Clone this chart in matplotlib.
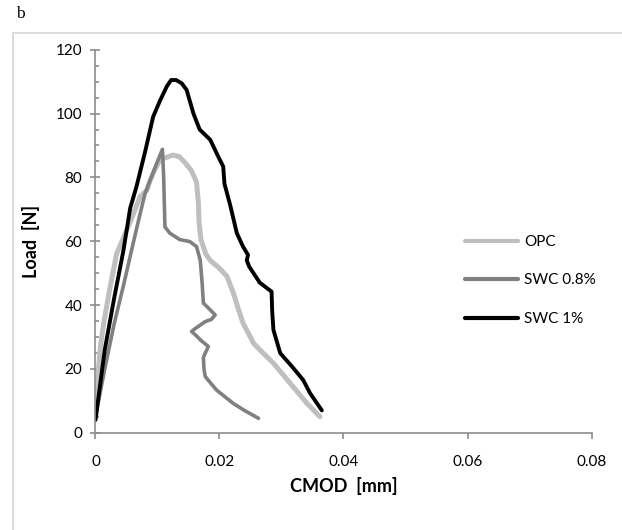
import matplotlib
matplotlib.use("Agg")
import matplotlib.pyplot as plt
from matplotlib.patches import Rectangle
from matplotlib.ticker import MultipleLocator

plt.rcParams['font.family'] = ['Lato', 'DejaVu Sans']

# CMOD [mm] / Load [N]
opc_x = [0, 0.0004, 0.0008, 0.0013, 0.0023, 0.0034, 0.0045, 0.0058, 0.0072, 0.0083,
         0.0088, 0.0096, 0.0104, 0.0115, 0.0125, 0.0135, 0.0145, 0.0155, 0.0163, 0.0166,
         0.0167, 0.0170, 0.0178, 0.0185, 0.0200, 0.0212, 0.0222, 0.0230, 0.0238, 0.0255,
         0.0270, 0.0287, 0.0314, 0.0341, 0.0362]
opc_y = [4.5, 18, 27, 34, 45, 56, 61, 67, 74, 76,
         79, 82.5, 85.5, 86.3, 87, 86.5, 84.5, 82, 78.5, 72,
         66, 60.5, 56, 54, 51.5, 49, 44, 39, 34.3, 28,
         25, 21.8, 15.5, 9.2, 5]

swc08_x = [0, 0.0015, 0.0030, 0.0045, 0.0058, 0.0070, 0.0080, 0.0092, 0.0100, 0.0108,
           0.0110, 0.0111, 0.0112, 0.0120, 0.0136, 0.0152, 0.0163, 0.0169, 0.0172, 0.0174,
           0.0185, 0.0193, 0.0187, 0.0177, 0.0160, 0.0155, 0.0162, 0.0169, 0.0182, 0.0176,
           0.0174, 0.0175, 0.0177, 0.0195, 0.0222, 0.0240, 0.0263]
swc08_y = [5, 20, 34, 46, 57, 67, 75, 81, 85, 88.8,
           80, 72, 64.5, 62.5, 60.5, 59.9, 58.3, 54, 47, 40.6,
           38.5, 36.9, 35.5, 34.8, 32.5, 31.7, 30.5, 29.1, 27, 24.5,
           23.5, 20, 17.6, 13.4, 9.2, 7, 4.5]

swc1_x = [0, 0.0015, 0.0030, 0.0045, 0.0056, 0.0066, 0.0080, 0.0093, 0.0104, 0.0115,
          0.0122, 0.0130, 0.0139, 0.0147, 0.0158, 0.0168, 0.0185, 0.0198, 0.0206, 0.0208,
          0.0217, 0.0228, 0.0238, 0.0246, 0.0244, 0.0248, 0.0265, 0.0284, 0.0285, 0.0287,
          0.0298, 0.0318, 0.0335, 0.0346, 0.0365]
swc1_y = [4, 26, 42, 57, 70.4, 77, 88, 99, 104, 108.5,
          110.5, 110.5, 109.5, 107.4, 100, 95, 91.8, 86.5, 83.4, 78,
          71.5, 62.5, 58.3, 55.7, 54, 52, 47, 44.2, 38, 32.2,
          24.9, 20.5, 16.5, 12.4, 7]

labels = ['OPC', 'SWC 0.8%', 'SWC 1%']

fig = plt.figure(figsize=(6.22, 5.30), dpi=100)
ax = fig.add_axes([0.1535, 0.1836, 0.7975, 0.7226])

ax.plot(opc_x, opc_y, color='#bfbfbf', lw=3.6, label=labels[0], solid_capstyle='round')
ax.plot(swc08_x, swc08_y, color='#808080', lw=2.6, label=labels[1], solid_capstyle='round')
ax.plot(swc1_x, swc1_y, color='black', lw=2.8, label=labels[2], solid_capstyle='round')

ax.set_xlim(0, 0.08)
ax.set_ylim(0, 120)
ax.set_xticks([0, 0.02, 0.04, 0.06, 0.08])
ax.set_xticklabels(['0', '0.02', '0.04', '0.06', '0.08'])
ax.set_yticks(range(0, 121, 20))
ax.yaxis.set_minor_locator(MultipleLocator(5))

for s in ['top', 'right']:
    ax.spines[s].set_visible(False)
for s in ['left', 'bottom']:
    ax.spines[s].set_color('#8c8c8c')
    ax.spines[s].set_linewidth(1.2)

ax.tick_params(axis='y', which='major', direction='inout', length=7, width=1.2,
               color='#8c8c8c', labelsize=11, pad=6)
ax.tick_params(axis='y', which='minor', direction='in', length=3, width=1.2, color='#8c8c8c')
ax.tick_params(axis='x', which='major', direction='out', length=4, width=1.2,
               color='#8c8c8c', labelsize=11, pad=12)

ax.set_xlabel('CMOD  [mm]', fontsize=13, fontweight='bold', labelpad=6)
ax.set_ylabel('Load  [N]', fontsize=13, fontweight='bold', labelpad=11)

leg = fig.legend(loc='upper left', bbox_to_anchor=(465 / 622, 1 - 235 / 530),
                 bbox_transform=fig.transFigure, frameon=False, fontsize=11,
                 handlelength=3.5, handletextpad=0.35, labelspacing=1.6,
                 borderpad=0, borderaxespad=0)
for line in leg.get_lines():
    line.set_linewidth(3)

fig.patches.append(Rectangle((13 / 622, -0.1), 1.2, 1.1 - 33 / 530, transform=fig.transFigure,
                             fill=False, edgecolor='#d9d9d9', lw=1.3, zorder=0))

fig.text(16 / 622, 1 - 14 / 530, 'b', family='Liberation Serif', fontsize=12.5,
         ha='left', va='center')

fig.savefig('out.png', dpi=100)
